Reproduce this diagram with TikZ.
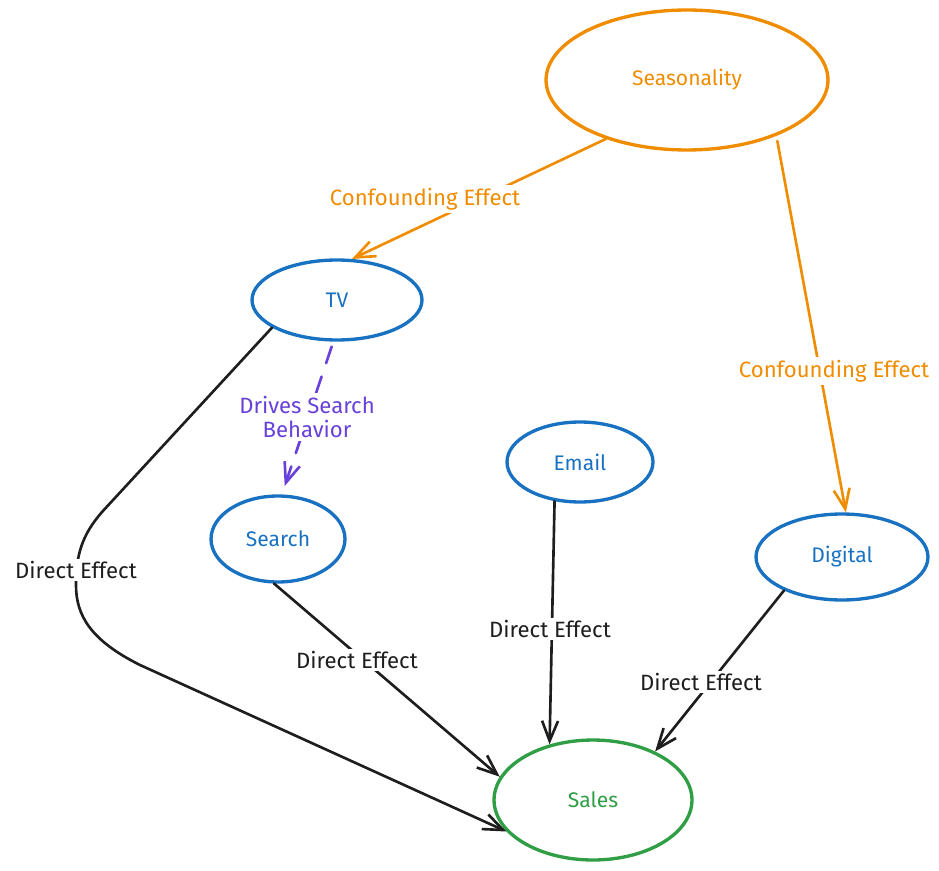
\documentclass[tikz,border=0pt]{standalone}
\usepackage{fontspec}
\setmainfont{Fira Sans}
\usetikzlibrary{shapes.geometric,arrows.meta}
\definecolor{cOrange}{HTML}{F08C00}
\definecolor{cBlue}{HTML}{1971C2}
\definecolor{cGreen}{HTML}{2F9E44}
\definecolor{cPurple}{HTML}{6741D9}
\definecolor{cInk}{HTML}{1E1E1E}
\tikzset{
  blob/.style={ellipse, draw, line width=1.9pt, inner sep=0pt, font=\fontsize{12}{14}\selectfont},
  link/.style={line width=1.5pt, line cap=round, line join=round,
    -{Straight Barb[length=4mm,width=3.2mm,line width=1.5pt]}},
  tag/.style={fill=white, inner sep=1.5pt, font=\fontsize{12.6}{15}\selectfont, align=center},
}
\begin{document}
\begin{tikzpicture}[x=0.02cm, y=-0.02cm]
\useasboundingbox (0,0) rectangle (939,871);

% factor nodes
\node[blob, draw=cOrange, text=cOrange, minimum width=5.64cm, minimum height=2.8cm] (seas) at (687,80) {Seasonality};
\node[blob, draw=cBlue, text=cBlue, minimum width=3.4cm, minimum height=1.6cm] (tv) at (337,300) {TV};
\node[blob, draw=cBlue, text=cBlue, minimum width=2.68cm, minimum height=1.72cm] (search) at (278,539) {Search};
\node[blob, draw=cBlue, text=cBlue, minimum width=2.92cm, minimum height=1.6cm] (email) at (580,462) {Email};
\node[blob, draw=cBlue, text=cBlue, minimum width=3.44cm, minimum height=1.72cm] (digital) at (842,557) {Digital};
\node[blob, draw=cGreen, text=cGreen, minimum width=3.96cm, minimum height=2.4cm] (sales) at (593,800) {Sales};

% confounding paths
\draw[link, cOrange] (seas.216) -- (tv.70);
\draw[link, cOrange, shorten <=3pt] (seas.328) -- (digital.85);
\node[tag, text=cOrange] (conf1) at (425,199) {Confounding Effect};
\node[tag, text=cOrange] (conf2) at (834,371) {Confounding Effect};

% TV drives search
\draw[link, cPurple, dash pattern=on 10pt off 8pt, shorten <=3pt, shorten >=5pt] (tv.265) -- (search.85);
\node[tag, text=cPurple] (drv) at (307,417) {Drives Search\\[-1pt]Behavior};

% direct effects
\draw[link, cInk] (tv.203) -- (102,512) .. controls (82,535) and (76,555) .. (76,585)
  .. controls (76,615) and (90,640) .. (140,665) -- (sales.200);
\draw[link, cInk] (search.265) -- (sales.166);
\draw[link, cInk] (email.237) -- (sales.128);
\draw[link, cInk] (digital.210) -- (sales.38);

\node[tag, text=cInk] (d1) at (76,570) {Direct Effect};
\node[tag, text=cInk] (d2) at (357,660) {Direct Effect};
\node[tag, text=cInk] (d3) at (550,629) {Direct Effect};
\node[tag, text=cInk] (d4) at (701,682) {Direct Effect};
\end{tikzpicture}
\end{document}
